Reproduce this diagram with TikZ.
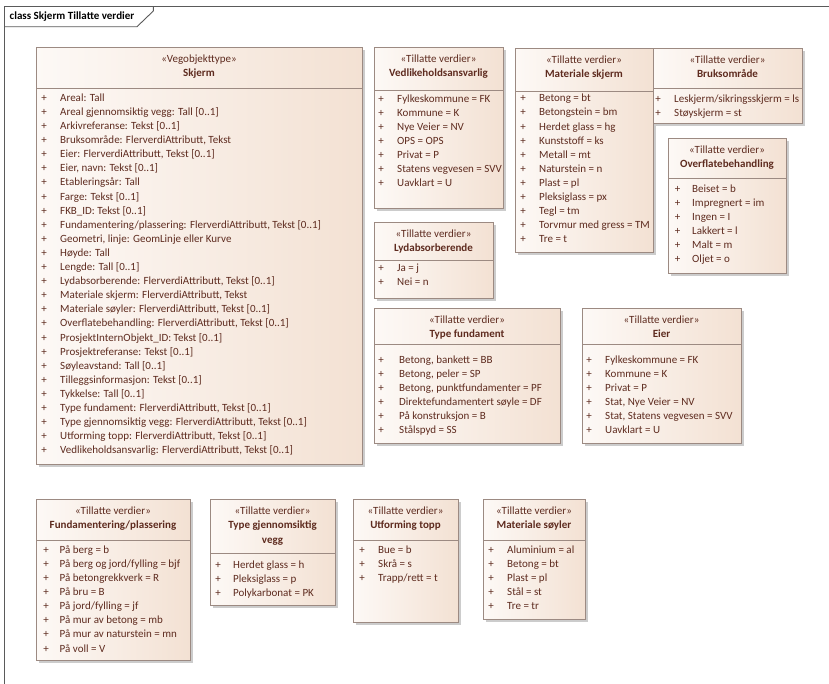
\documentclass[tikz,border=0pt]{standalone}
\usepackage{fontspec}
\setmainfont{Carlito}
\usetikzlibrary{calc,shadows}
\definecolor{txt}{HTML}{5E2B1F}
\definecolor{bdr}{HTML}{9C8A82}
\definecolor{fillL}{HTML}{FDF9F6}
\definecolor{fillR}{HTML}{F3E1D3}
\definecolor{frm}{HTML}{5A5A5A}
\tikzset{
  umlbox/.style={draw=bdr, line width=0.9pt, left color=fillL, right color=fillR,
    anchor=north west, inner sep=0pt, outer sep=0pt,
    drop shadow={shadow xshift=3pt, shadow yshift=-3pt, fill=black!20, opacity=1}},
  stereo/.style={text=txt, font=\fontsize{11}{13}\selectfont, inner sep=0pt, anchor=mid},
  cname/.style={text=txt, font=\bfseries\fontsize{11}{13}\selectfont, inner sep=0pt, anchor=mid},
  attr/.style={text=txt, font=\fontsize{11}{13}\selectfont, inner sep=0pt, anchor=mid west},
  plussign/.style={text=txt, font=\fontsize{11}{13}\selectfont, inner sep=0pt, anchor=mid},
  sepline/.style={draw=bdr, line width=0.9pt},
  frameline/.style={draw=frm, line width=0.9pt},
  titletext/.style={font=\bfseries\fontsize{11}{13}\selectfont, inner sep=0pt, anchor=mid west, text=black},
}
% #1 name, #2 x1, #3 y1, #4 x2, #5 y2, #6 separator offset, #7 stereotype, #8 class name
\newcommand{\mkbox}[8]{%
  \node[umlbox, minimum width={(#4-#2)*1pt}, minimum height={(#5-#3)*1pt}] (#1) at (#2,#3) {};
  \draw[sepline] ($(#1.north west)+(0,#6)$) -- ($(#1.north east)+(0,#6)$);
  \node[stereo] (#1-st) at ($(#1.north)+(0,13.5)$) {#7};
  \node[cname] (#1-nm) at ($(#1.north)+(0,27.5)$) {#8};
}
% #1 name, #2 plus x, #3 text x, #4 first y, #5 list
\newcommand{\mkattrs}[5]{%
  \foreach \t [count=\i] in {#5} {
    \node[plussign] (#1-p\i) at (#2,{#4+(\i-1)*14.1}) {+};
    \node[attr] (#1-a\i) at (#3,{#4+(\i-1)*14.1}) {\t};
  }
}
\begin{document}
\begin{tikzpicture}[x=1pt,y=-1pt]
\useasboundingbox[fill=white] (0,0) rectangle (829,683);
% frame
\coordinate (fbl) at (4.5,690);
\coordinate (ftl) at (4.5,6.7);
\coordinate (ftr) at (835,6.7);
\draw[frameline] (fbl) -- (ftl) -- (ftr);
\coordinate (tabA) at (4.5,26.7);
\coordinate (tabB) at (137,26.7);
\coordinate (tabC) at (153.3,11);
\coordinate (tabD) at (153.3,6.7);
\draw[frameline] (tabA) -- (tabB) -- (tabC) -- (tabD);
\node[titletext] (title) at (9.5,17) {class Skjerm Tillatte verdier};

% Skjerm
\mkbox{skjerm}{36}{47}{362}{464}{41}{«Vegobjekttype»}{Skjerm}
\mkattrs{skjerm}{44}{60}{99}{{Areal: Tall},{Areal gjennomsiktig vegg: Tall [0..1]},{Arkivreferanse: Tekst [0..1]},{Bruksområde: FlerverdiAttributt, Tekst},{Eier: FlerverdiAttributt, Tekst [0..1]},{Eier, navn: Tekst [0..1]},{Etableringsår: Tall},{Farge: Tekst [0..1]},{FKB\_ID: Tekst [0..1]},{Fundamentering/plassering: FlerverdiAttributt, Tekst [0..1]},{Geometri, linje: GeomLinje eller Kurve},{Høyde: Tall},{Lengde: Tall [0..1]},{Lydabsorberende: FlerverdiAttributt, Tekst [0..1]},{Materiale skjerm: FlerverdiAttributt, Tekst},{Materiale søyler: FlerverdiAttributt, Tekst [0..1]},{Overflatebehandling: FlerverdiAttributt, Tekst [0..1]},{ProsjektInternObjekt\_ID: Tekst [0..1]},{Prosjektreferanse: Tekst [0..1]},{Søyleavstand: Tall [0..1]},{Tilleggsinformasjon: Tekst [0..1]},{Tykkelse: Tall [0..1]},{Type fundament: FlerverdiAttributt, Tekst [0..1]},{Type gjennomsiktig vegg: FlerverdiAttributt, Tekst [0..1]},{Utforming topp: FlerverdiAttributt, Tekst [0..1]},{Vedlikeholdsansvarlig: FlerverdiAttributt, Tekst [0..1]}}

% Vedlikeholdsansvarlig
\mkbox{vedl}{374}{47}{503}{208}{43}{«Tillatte verdier»}{Vedlikeholdsansvarlig}
\mkattrs{vedl}{381}{397}{100}{{Fylkeskommune = FK},{Kommune = K},{Nye Veier = NV},{OPS = OPS},{Privat = P},{Statens vegvesen = SVV},{Uavklart = U}}

% Lydabsorberende
\mkbox{lyd}{374}{222}{493}{298}{38.5}{«Tillatte verdier»}{Lydabsorberende}
\mkattrs{lyd}{381}{397}{269}{{Ja = j},{Nei = n}}

% Materiale skjerm
\mkbox{matsk}{515}{48}{653}{252}{43}{«Tillatte verdier»}{Materiale skjerm}
\mkattrs{matsk}{523}{539}{99.5}{{Betong = bt},{Betongstein = bm},{Herdet glass = hg},{Kunststoff = ks},{Metall = mt},{Naturstein = n},{Plast = pl},{Pleksiglass = px},{Tegl = tm},{Torvmur med gress = TM},{Tre = t}}

% Bruksomraade
\mkbox{bruk}{653}{48}{802}{123}{40.5}{«Tillatte verdier»}{Bruksområde}
\mkattrs{bruk}{658}{674}{100}{{Leskjerm/sikringsskjerm = ls},{Støyskjerm = st}}

% Overflatebehandling
\mkbox{overfl}{668}{138}{786}{273}{40}{«Tillatte verdier»}{Overflatebehandling}
\mkattrs{overfl}{677.5}{692}{190}{{Beiset = b},{Impregnert = im},{Ingen = I},{Lakkert = l},{Malt = m},{Oljet = o}}

% Type fundament
\mkbox{typef}{374}{308}{560}{443}{36}{«Tillatte verdier»}{Type fundament}
\mkattrs{typef}{381}{399}{361}{{Betong, bankett = BB},{Betong, peler = SP},{Betong, punktfundamenter = PF},{Direktefundamentert søyle = DF},{På konstruksjon = B},{Stålspyd = SS}}

% Eier
\mkbox{eier}{582}{308}{741}{443}{36}{«Tillatte verdier»}{Eier}
\mkattrs{eier}{589}{605}{361}{{Fylkeskommune = FK},{Kommune = K},{Privat = P},{Stat, Nye Veier = NV},{Stat, Statens vegvesen = SVV},{Uavklart = U}}

% Fundamentering/plassering
\mkbox{fund}{36}{499}{190}{660}{41}{«Tillatte verdier»}{Fundamentering/plassering}
\mkattrs{fund}{46}{59.5}{551}{{På berg = b},{På berg og jord/fylling = bjf},{På betongrekkverk = R},{På bru = B},{På jord/fylling = jf},{På mur av betong = mb},{På mur av naturstein = mn},{På voll = V}}

% Type gjennomsiktig vegg
\mkbox{typegj}{210}{499}{335}{605}{54}{«Tillatte verdier»}{Type gjennomsiktig}
\node[cname] (typegj-nm2) at ($(typegj.north)+(0,42)$) {vegg};
\mkattrs{typegj}{218}{233}{566}{{Herdet glass = h},{Pleksiglass = p},{Polykarbonat = PK}}

% Utforming topp
\mkbox{utf}{353}{499}{458}{622}{41}{«Tillatte verdier»}{Utforming topp}
\mkattrs{utf}{362}{378}{551}{{Bue = b},{Skrå = s},{Trapp/rett = t}}

% Materiale soyler
\mkbox{matsoy}{483}{499}{585}{619}{41}{«Tillatte verdier»}{Materiale søyler}
\mkattrs{matsoy}{491}{507}{551}{{Aluminium = al},{Betong = bt},{Plast = pl},{Stål = st},{Tre = tr}}
\end{tikzpicture}
\end{document}
